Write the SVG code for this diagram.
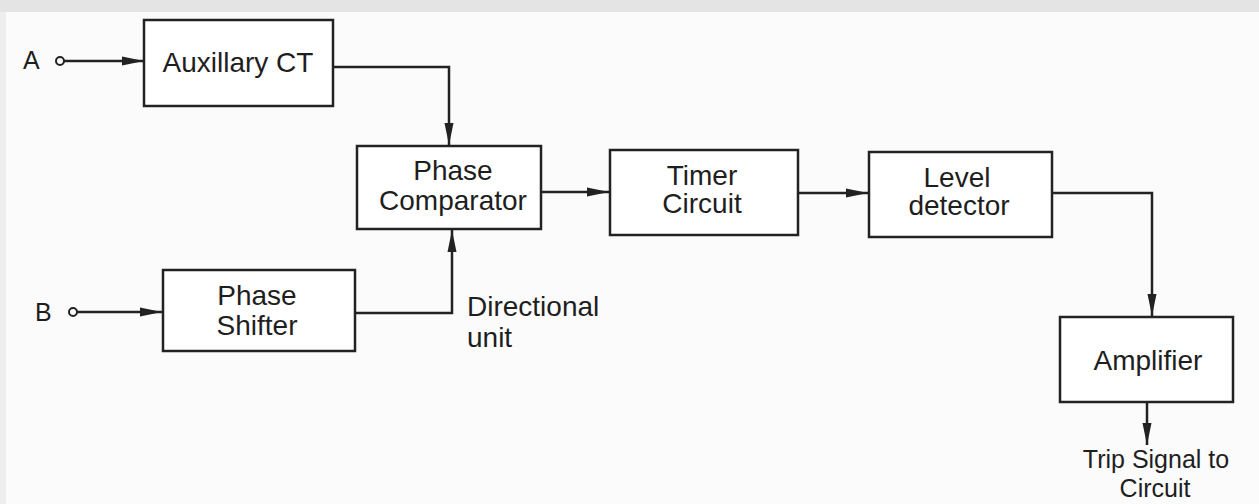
<svg xmlns="http://www.w3.org/2000/svg" width="1259" height="504" viewBox="0 0 1259 504">
  <style>
    .box { fill: #ffffff; stroke: #222222; stroke-width: 2.5; }
    .wire { fill: none; stroke: #222222; stroke-width: 2.5; }
    .lbl { font-family: "Liberation Sans", Arial, sans-serif; font-size: 28px; fill: #1e1e1e; }
    .sm { font-size: 25px; }
    .mid { text-anchor: middle; }
    .io { font-family: "Liberation Sans", Arial, sans-serif; font-size: 25px; fill: #1e1e1e; }
  </style>
  <defs>
    <marker id="arr" markerWidth="22" markerHeight="10" refX="22" refY="5" orient="auto" markerUnits="userSpaceOnUse">
      <path d="M0,0.5 L22,5 L0,9.5 Z" fill="#222222"/>
    </marker>
  </defs>
  <rect x="0" y="0" width="1259" height="504" fill="#fbfbfb"/>
  <rect x="0" y="0" width="1259" height="12" fill="#e4e4e4"/>
  <rect x="0" y="12" width="6" height="492" fill="#eeeeee"/>

  <g id="connectors">
    <circle cx="60" cy="61" r="4" fill="none" stroke="#222222" stroke-width="2"/>
    <line class="wire" x1="64" y1="61" x2="144" y2="61" marker-end="url(#arr)"/>
    <circle cx="73" cy="312" r="4" fill="none" stroke="#222222" stroke-width="2"/>
    <line class="wire" x1="77" y1="312" x2="162" y2="312" marker-end="url(#arr)"/>
    <polyline class="wire" points="333,67 449,67 449,145" marker-end="url(#arr)"/>
    <polyline class="wire" points="355,313 452,313 452,230" marker-end="url(#arr)"/>
    <line class="wire" x1="541" y1="192" x2="609" y2="192" marker-end="url(#arr)"/>
    <line class="wire" x1="798" y1="193" x2="868" y2="193" marker-end="url(#arr)"/>
    <polyline class="wire" points="1052,193 1152,193 1152,316" marker-end="url(#arr)"/>
    <line class="wire" x1="1147" y1="402" x2="1147" y2="445" marker-end="url(#arr)"/>
  </g>

  <g id="input-a">
    <text class="io" x="23" y="69">A</text>
  </g>
  <g id="input-b">
    <text class="io" x="35" y="321">B</text>
  </g>

  <g id="auxillary-ct">
    <rect class="box" x="144" y="20" width="189" height="86"/>
    <text class="lbl mid" x="238" y="72">Auxillary CT</text>
  </g>

  <g id="phase-comparator">
    <rect class="box" x="357" y="146" width="184" height="83"/>
    <text class="lbl mid" x="453" y="180">Phase</text>
    <text class="lbl mid" x="453" y="210">Comparator</text>
  </g>

  <g id="phase-shifter">
    <rect class="box" x="163" y="270" width="192" height="81"/>
    <text class="lbl mid" x="257" y="305">Phase</text>
    <text class="lbl mid" x="257" y="335">Shifter</text>
  </g>

  <g id="directional-unit-label">
    <text class="lbl" x="467" y="316">Directional</text>
    <text class="lbl" x="467" y="347">unit</text>
  </g>

  <g id="timer-circuit">
    <rect class="box" x="610" y="150" width="188" height="85"/>
    <text class="lbl mid" x="702" y="185">Timer</text>
    <text class="lbl mid" x="702" y="213">Circuit</text>
  </g>

  <g id="level-detector">
    <rect class="box" x="869" y="152" width="183" height="85"/>
    <text class="lbl mid" x="957" y="187">Level</text>
    <text class="lbl mid" x="959" y="215">detector</text>
  </g>

  <g id="amplifier">
    <rect class="box" x="1060" y="317" width="173" height="85"/>
    <text class="lbl mid" x="1148" y="370">Amplifier</text>
  </g>

  <g id="trip-signal-label">
    <text class="lbl sm mid" x="1156" y="468">Trip Signal to</text>
    <text class="lbl sm mid" x="1155" y="497">Circuit</text>
  </g>
</svg>
